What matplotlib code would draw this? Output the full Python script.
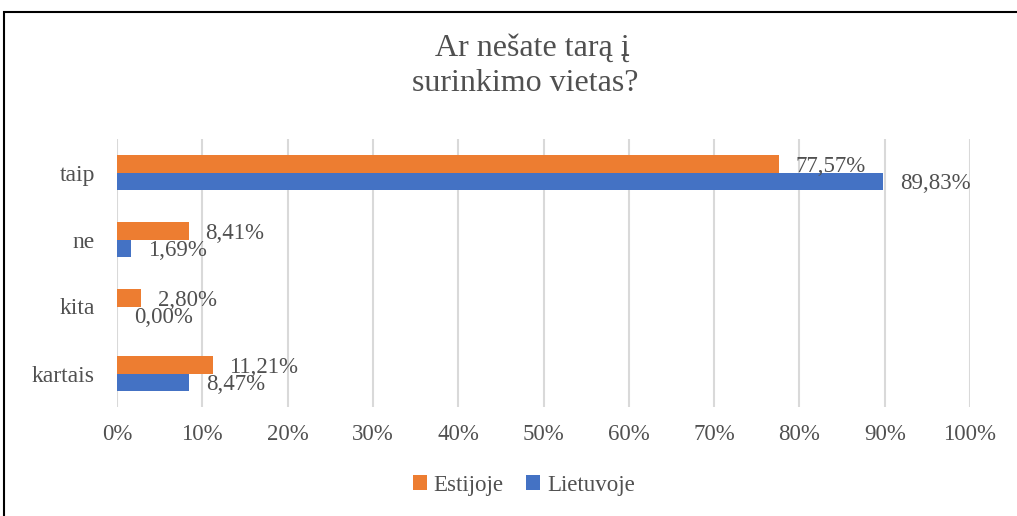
import matplotlib.pyplot as plt
from matplotlib.patches import Rectangle

# duomenys
categories = ['taip', 'ne', 'kita', 'kartais']
estijoje = [77.57, 8.41, 2.80, 11.21]
lietuvoje = [89.83, 1.69, 0.00, 8.47]
ticks = list(range(0, 101, 10))

orange = '#ED7D31'
blue = '#4472C4'
text_color = '#505050'

plt.rcParams['font.family'] = ['Liberation Serif', 'DejaVu Serif']

fig = plt.figure(figsize=(10.17, 5.16), dpi=100)
ax = fig.add_axes([117 / 1017, 1 - 407 / 516, (970 - 117) / 1017, 268 / 516])

# rėmelis aplink visą diagramą
fig.patches.append(Rectangle((4 / 1017, -0.1), 1.2, 1 - 12 / 516 + 0.1,
                             transform=fig.transFigure, fill=False,
                             edgecolor='black', linewidth=1.5))

y = list(range(len(categories)))
h = 0.26
bars_e = ax.barh([v - h / 2 for v in y], estijoje, height=h, color=orange, label='Estijoje')
bars_l = ax.barh([v + h / 2 for v in y], lietuvoje, height=h, color=blue, label='Lietuvoje')

for bars, vals in ((bars_e, estijoje), (bars_l, lietuvoje)):
    for b, v in zip(bars, vals):
        ax.annotate(f'{v:.2f}%'.replace('.', ','),
                    (b.get_width(), b.get_y() + b.get_height() / 2),
                    xytext=(12, -2), textcoords='offset points',
                    va='center', ha='left', fontsize=16.5, color=text_color)

ax.set_xlim(0, 100)
ax.set_ylim(len(categories) - 0.5, -0.5)
ax.set_xticks(ticks)
ax.set_xticklabels([f'{t}%' for t in ticks], fontsize=16.5, color=text_color)
ax.set_yticks(y)
ax.set_yticklabels(categories, fontsize=17, color=text_color)
ax.tick_params(length=0, pad=16, axis='y')
ax.tick_params(length=0, pad=12, axis='x')
ax.grid(axis='x', color='#D9D9D9', linewidth=1.5)
ax.set_axisbelow(True)
for s in ax.spines.values():
    s.set_visible(False)

fig.text(532 / 1017, 1 - 48 / 516, 'Ar nešate tarą į', ha='center', va='center',
         fontsize=23, color=text_color)
fig.text(525 / 1017, 1 - 83 / 516, 'surinkimo vietas?', ha='center', va='center',
         fontsize=23, color=text_color)

fig.legend(loc='center', bbox_to_anchor=(0.515, 1 - 485 / 516), ncol=2,
           frameon=False, fontsize=16.5, handlelength=0.6, handleheight=0.6,
           handletextpad=0.3, columnspacing=1.0, labelcolor=text_color)

fig.savefig('out.png', dpi=100)
